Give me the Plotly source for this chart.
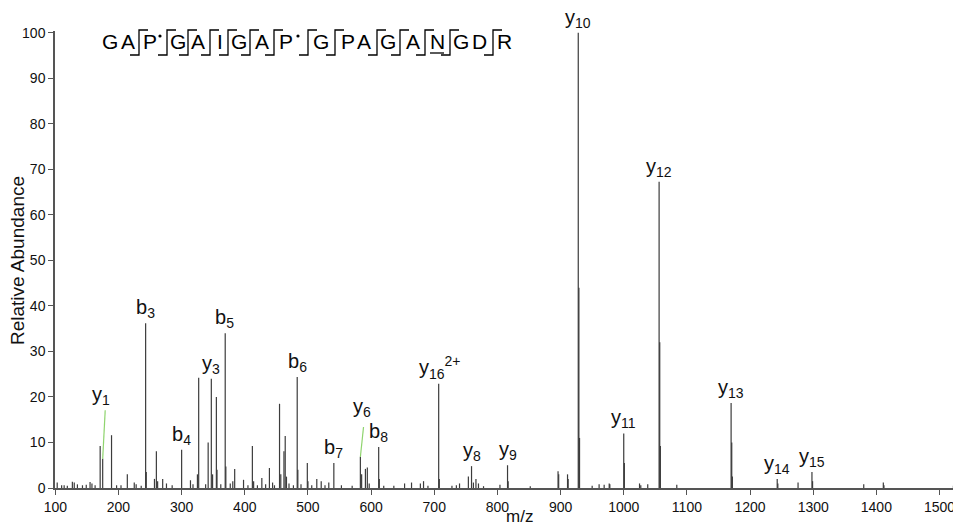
import plotly.graph_objects as go

# ---------------- data ----------------
mz = [103, 110, 114, 119, 127, 130, 135, 143, 149, 155, 158, 163,
      171, 175, 189, 197, 204, 214, 225, 228, 236, 243, 244, 257, 260, 262, 270, 276, 285,
      300, 314, 318, 325, 327, 338, 342, 347, 349, 355, 356, 362, 369, 370, 377, 381, 384,
      398, 405, 412, 414, 420, 427, 433, 439, 444, 447, 455, 457, 462, 464, 466, 470, 477,
      483, 484, 489, 499, 500, 506, 514, 521, 527, 533, 541, 553, 570, 583, 585, 591, 594,
      597, 612, 613, 620, 636, 653, 664, 678, 683, 690, 707, 708, 728, 735, 740, 754, 759,
      762, 766, 770, 778, 804, 816, 817, 852, 896, 897, 911, 912, 928, 929, 930, 950, 961,
      969, 977, 978, 1000, 1001, 1025, 1027, 1038, 1056, 1057, 1058, 1084, 1170, 1171, 1172,
      1243, 1244, 1276, 1298, 1299, 1380, 1411, 1412, 1522, 1528]
intensity = [1.2, 0.6, 0.6, 0.5, 1.4, 1.2, 0.8, 0.6, 0.7, 1.3, 1.0, 0.6,
             9.2, 6.4, 11.6, 0.6, 0.6, 3.0, 1.2, 0.8, 0.5, 36.2, 3.5, 2.0, 8.1, 1.5, 2.0, 1.0, 0.6,
             8.4, 1.7, 0.8, 3.0, 24.2, 0.8, 10.0, 24.0, 3.0, 20.0, 4.0, 0.8, 34.0, 4.7, 1.0, 1.5, 4.2,
             1.8, 0.6, 9.2, 1.5, 0.6, 2.2, 0.8, 4.4, 1.2, 0.6, 18.5, 3.0, 8.1, 11.4, 2.5, 1.0, 0.6,
             24.4, 4.0, 0.8, 5.5, 1.5, 0.6, 2.0, 1.5, 0.6, 1.2, 5.5, 0.6, 0.5, 6.8, 3.0, 4.2, 4.5,
             1.0, 9.0, 2.0, 0.5, 0.5, 1.0, 1.2, 1.0, 1.5, 0.5, 22.9, 2.0, 0.5, 0.6, 1.0, 2.5, 4.8,
             1.2, 2.0, 1.0, 0.4, 0.7, 5.0, 1.5, 0.4, 3.7, 3.0, 3.0, 2.0, 100.0, 44.0, 11.0, 0.5, 0.8,
             0.7, 1.0, 0.8, 12.0, 5.5, 1.0, 0.6, 0.8, 67.3, 32.0, 9.2, 0.7, 18.7, 10.0, 2.5,
             2.0, 1.0, 1.2, 3.5, 1.5, 0.8, 1.2, 0.6, 0.5, 0.5]

ion_labels = ["y1", "b3", "b4", "y3", "b5", "b6", "b7", "y6", "b8", "y16 2+",
              "y8", "y9", "y10", "y11", "y12", "y13", "y14", "y15"]
label_mz = [173, 242, 300, 347, 368, 483, 541, 585, 612, 709,
            759, 816, 928, 1000, 1056, 1170, 1243, 1298]
label_int = [17.1, 36.2, 8.4, 24.0, 34.0, 24.4, 5.5, 14.5, 9.0, 22.9,
             4.8, 5.0, 100.0, 12.0, 67.3, 18.7, 2.0, 3.5]

# green connectors (label -> assigned peak) for y1 and y6
conn_label_mz = [179, 588]
conn_label_int = [17.1, 13.4]
conn_peak_mz = [175, 583]
conn_peak_int = [6.4, 6.8]

sequence = list("GAPGAIGAPGPAGANGDR")
x_ticks = list(range(100, 1600, 100))
y_ticks = list(range(0, 110, 10))

# ---------------- geometry / style ----------------
# the page body has an 8px margin, so the figure is drawn 8px smaller and offset
OFF = 8
W, H = 961 - OFF, 527 - OFF
PLOT_L, PLOT_R, PLOT_T, PLOT_B = 55, 961, 31, 488          # page pixel positions of plot area
L, R, T, B = PLOT_L - OFF, 961 - PLOT_R, PLOT_T - OFF, (H + OFF) - PLOT_B
PW, PH = PLOT_R - PLOT_L, PLOT_B - PLOT_T


def px(x):
    return (x - PLOT_L) / PW


def py(y):
    return (PLOT_B - y) / PH


FONT = "Arial, Liberation Sans, Helvetica, sans-serif"
seq_letter_px = [110, 128, 150, 178, 198, 220, 239, 262, 286, 321, 348, 364, 388, 413, 437, 461, 479, 504]
seq_dot_px = [160, 298]
seq_bracket_px = [139, 167, 188, 210, 228, 250, 274, 308, 335, 377, 400, 425, 450, 493]

# ---------------- figure ----------------
xs, ys = [], []
for m, h in zip(mz, intensity):
    xs += [m, m, None]
    ys += [0, h, None]

fig = go.Figure()
fig.add_trace(go.Scatter(x=xs, y=ys, mode="lines", line=dict(color="#3c3c3c", width=1.2),
                         hoverinfo="skip", showlegend=False))

gx, gy = [], []
for a, b, c, d in zip(conn_label_mz, conn_label_int, conn_peak_mz, conn_peak_int):
    gx += [a, c, None]
    gy += [b, d, None]
fig.add_trace(go.Scatter(x=gx, y=gy, mode="lines", line=dict(color="#8fd46e", width=1.2),
                         hoverinfo="skip", showlegend=False))


def fmt(lbl):
    parts = lbl.split(" ")
    s = lbl[0] + "<sub>" + parts[0][1:] + "</sub>"
    if len(parts) > 1:
        s += "<sup>" + parts[1] + "</sup>"
    return s


annotations = []
for t, xm, yv in zip(ion_labels, label_mz, label_int):
    annotations.append(dict(x=xm, y=yv, xref="x", yref="y", text=fmt(t), showarrow=False,
                            xanchor="center", yanchor="bottom",
                            font=dict(family=FONT, size=20, color="#111")))

# peptide sequence
for ch, xp in zip(sequence, seq_letter_px):
    annotations.append(dict(x=px(xp), y=py(42), xref="paper", yref="paper", text=ch,
                            showarrow=False, xanchor="center", yanchor="middle",
                            font=dict(family=FONT, size=21, color="#000")))

# axis titles
annotations.append(dict(x=px(520), y=py(516), xref="paper", yref="paper", text="m/z",
                        showarrow=False, xanchor="center", yanchor="middle",
                        font=dict(family=FONT, size=17, color="#111")))
annotations.append(dict(x=px(18), y=py(261), xref="paper", yref="paper", text="Relative Abundance",
                        showarrow=False, xanchor="center", yanchor="middle", textangle=-90,
                        font=dict(family=FONT, size=19, color="#111")))

shapes = []
for bx in seq_bracket_px:
    path = "M {} {} L {} {} L {} {} L {} {}".format(
        px(bx - 9), py(55), px(bx), py(55), px(bx), py(30), px(bx + 9), py(30))
    shapes.append(dict(type="path", path=path, xref="paper", yref="paper",
                       line=dict(color="#000", width=1.3)))
for dx in seq_dot_px:
    shapes.append(dict(type="circle", xref="paper", yref="paper",
                       x0=px(dx - 1.6), x1=px(dx + 1.6), y0=py(36 - 1.6), y1=py(36 + 1.6),
                       fillcolor="#000", line=dict(width=0)))
# underline under N
n_idx = 14
shapes.append(dict(type="line", xref="paper", yref="paper",
                   x0=px(seq_letter_px[n_idx] - 7), x1=px(seq_letter_px[n_idx] + 7),
                   y0=py(53), y1=py(53), line=dict(color="#000", width=1.3)))

fig.update_layout(
    width=W, height=H, autosize=False,
    margin=dict(l=L, r=R, t=T, b=B, pad=0),
    paper_bgcolor="white", plot_bgcolor="white",
    annotations=annotations, shapes=shapes,
    showlegend=False,
    font=dict(family=FONT, color="#111"),
)
fig.update_xaxes(range=[99.5, 1534], tickvals=x_ticks, ticktext=[str(v) for v in x_ticks],
                 showgrid=False, zeroline=False, showline=True, linecolor="#555", linewidth=1.5,
                 ticks="outside", ticklen=5, tickcolor="#555", tickwidth=1.2,
                 tickfont=dict(family=FONT, size=14, color="#111"))
fig.update_yaxes(range=[0, 100.4], tickvals=y_ticks, ticktext=[str(v) for v in y_ticks],
                 showgrid=False, zeroline=False, showline=True, linecolor="#555", linewidth=1.5,
                 ticks="outside", ticklen=5, tickcolor="#555", tickwidth=1.2,
                 tickfont=dict(family=FONT, size=14, color="#111"))

fig.write_html("out.html")
